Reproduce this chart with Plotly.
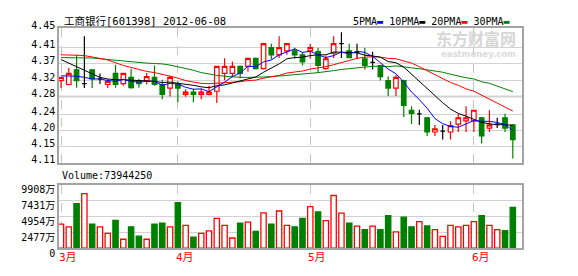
import plotly.graph_objects as go

# ---------------- data ----------------
dates = [
    "2012-03-12", "2012-03-13", "2012-03-14", "2012-03-15", "2012-03-16",
    "2012-03-19", "2012-03-20", "2012-03-21", "2012-03-22", "2012-03-23",
    "2012-03-26", "2012-03-27", "2012-03-28", "2012-03-29", "2012-03-30",
    "2012-04-05", "2012-04-06", "2012-04-09", "2012-04-10", "2012-04-11",
    "2012-04-12", "2012-04-13", "2012-04-16", "2012-04-17", "2012-04-18",
    "2012-04-19", "2012-04-20", "2012-04-23", "2012-04-24", "2012-04-25",
    "2012-04-26", "2012-04-27",
    "2012-05-02", "2012-05-03", "2012-05-04", "2012-05-07", "2012-05-08",
    "2012-05-09", "2012-05-10", "2012-05-11", "2012-05-14", "2012-05-15",
    "2012-05-16", "2012-05-17", "2012-05-18", "2012-05-21", "2012-05-22",
    "2012-05-23", "2012-05-24", "2012-05-25", "2012-05-28", "2012-05-29",
    "2012-05-30",
    "2012-06-01", "2012-06-04", "2012-06-05", "2012-06-06", "2012-06-07",
    "2012-06-08",
]

open_ = [4.318, 4.308, 4.345, 4.310, 4.345, 4.322, 4.308, 4.336, 4.310, 4.326,
         4.318, 4.318, 4.326, 4.308, 4.299, 4.309, 4.283, 4.289, 4.283, 4.283,
         4.291, 4.336, 4.336, 4.354, 4.354, 4.374, 4.348, 4.401, 4.383, 4.393,
         4.393, 4.383, 4.393, 4.391, 4.348, 4.387, 4.411, 4.393, 4.389, 4.373,
         4.364, 4.356, 4.318, 4.299, 4.318, 4.243, 4.234, 4.224, 4.188, 4.190,
         4.188, 4.208, 4.216, 4.216, 4.224, 4.198, 4.208, 4.224, 4.206]
high = [4.327, 4.350, 4.383, 4.430, 4.346, 4.336, 4.322, 4.358, 4.337, 4.348,
        4.322, 4.337, 4.356, 4.320, 4.330, 4.316, 4.296, 4.297, 4.297, 4.305,
        4.354, 4.374, 4.366, 4.356, 4.374, 4.376, 4.411, 4.411, 4.430, 4.413,
        4.401, 4.390, 4.411, 4.401, 4.381, 4.430, 4.440, 4.411, 4.411, 4.401,
        4.391, 4.358, 4.328, 4.332, 4.320, 4.253, 4.244, 4.226, 4.206, 4.206,
        4.215, 4.234, 4.253, 4.244, 4.226, 4.243, 4.224, 4.234, 4.208]
low = [4.299, 4.306, 4.300, 4.299, 4.299, 4.309, 4.299, 4.300, 4.305, 4.297,
       4.300, 4.308, 4.305, 4.271, 4.278, 4.263, 4.277, 4.263, 4.271, 4.280,
       4.261, 4.319, 4.326, 4.324, 4.340, 4.346, 4.346, 4.372, 4.375, 4.383,
       4.373, 4.356, 4.373, 4.338, 4.346, 4.375, 4.375, 4.374, 4.375, 4.346,
       4.346, 4.318, 4.279, 4.279, 4.226, 4.208, 4.206, 4.178, 4.178, 4.169,
       4.169, 4.188, 4.188, 4.188, 4.159, 4.188, 4.198, 4.188, 4.121]
close = [4.326, 4.336, 4.318, 4.310, 4.322, 4.322, 4.316, 4.308, 4.336, 4.300,
         4.310, 4.328, 4.308, 4.283, 4.326, 4.299, 4.289, 4.283, 4.289, 4.289,
         4.354, 4.354, 4.354, 4.336, 4.374, 4.348, 4.411, 4.383, 4.401, 4.411,
         4.383, 4.365, 4.401, 4.356, 4.373, 4.411, 4.411, 4.376, 4.389, 4.356,
         4.364, 4.328, 4.299, 4.326, 4.255, 4.235, 4.234, 4.188, 4.196, 4.190,
         4.204, 4.224, 4.224, 4.243, 4.178, 4.206, 4.208, 4.198, 4.169]

ma5 = [4.330, 4.330, 4.329, 4.326, 4.322, 4.322, 4.318, 4.316, 4.321, 4.316,
       4.314, 4.316, 4.316, 4.306, 4.311, 4.309, 4.301, 4.296, 4.297, 4.290,
       4.301, 4.314, 4.328, 4.337, 4.354, 4.353, 4.365, 4.370, 4.383, 4.391,
       4.398, 4.389, 4.392, 4.383, 4.376, 4.381, 4.390, 4.385, 4.392, 4.389,
       4.379, 4.363, 4.347, 4.335, 4.314, 4.289, 4.270, 4.248, 4.222, 4.209,
       4.202, 4.200, 4.208, 4.217, 4.215, 4.215, 4.212, 4.207, 4.192]
ma10 = [4.371, 4.362, 4.352, 4.342, 4.333, 4.326, 4.322, 4.320, 4.320, 4.319,
        4.318, 4.317, 4.316, 4.313, 4.314, 4.311, 4.309, 4.306, 4.302, 4.300,
        4.305, 4.307, 4.312, 4.317, 4.322, 4.327, 4.339, 4.349, 4.360, 4.373,
        4.376, 4.377, 4.381, 4.383, 4.383, 4.390, 4.390, 4.389, 4.388, 4.382,
        4.380, 4.377, 4.366, 4.363, 4.352, 4.334, 4.316, 4.297, 4.278, 4.262,
        4.246, 4.235, 4.228, 4.219, 4.212, 4.209, 4.206, 4.207, 4.204]
ma20 = [4.383, 4.383, 4.382, 4.381, 4.378, 4.374, 4.370, 4.363, 4.356, 4.351,
        4.346, 4.341, 4.338, 4.334, 4.329, 4.324, 4.318, 4.314, 4.311, 4.310,
        4.311, 4.312, 4.314, 4.315, 4.318, 4.319, 4.324, 4.328, 4.331, 4.337,
        4.340, 4.342, 4.347, 4.350, 4.353, 4.358, 4.364, 4.369, 4.374, 4.377,
        4.378, 4.377, 4.374, 4.373, 4.367, 4.362, 4.353, 4.343, 4.333, 4.322,
        4.313, 4.306, 4.297, 4.291, 4.282, 4.271, 4.261, 4.252, 4.241]
ma30 = [4.376, 4.376, 4.376, 4.376, 4.375, 4.373, 4.371, 4.369, 4.367, 4.365,
        4.363, 4.362, 4.361, 4.360, 4.357, 4.353, 4.349, 4.344, 4.338, 4.334,
        4.331, 4.329, 4.327, 4.326, 4.326, 4.326, 4.327, 4.328, 4.329, 4.331,
        4.333, 4.334, 4.336, 4.338, 4.340, 4.343, 4.346, 4.348, 4.350, 4.352,
        4.354, 4.354, 4.353, 4.355, 4.352, 4.350, 4.348, 4.345, 4.342, 4.339,
        4.334, 4.329, 4.325, 4.322, 4.315, 4.311, 4.304, 4.298, 4.290]

volume_wan = [3788, 3351, 6994, 8550, 3788, 3351, 2331, 4371, 1408, 3351,
              1894, 1408, 3788, 3934, 3351, 7139, 3594, 1748, 2331, 2720,
              4662, 3594, 1603, 3934, 4080, 2623, 5537, 3788, 5828, 3594,
              3351, 4662, 6508, 5682, 4322, 8255, 5488, 3934, 3448, 2914,
              3448, 2914, 5100, 2574, 4856, 3351, 4177, 3497, 2914, 1846,
              3594, 3351, 3594, 4177, 5100, 3594, 2914, 2768, 6411]

price_ticks = [4.11, 4.1518, 4.1912, 4.2316, 4.2776, 4.3187, 4.3612, 4.4021, 4.45]
price_tick_labels = ["4.11", "4.15", "4.20", "4.24", "4.28", "4.32", "4.37", "4.41", "4.45"]
volume_ticks = [0, 2477, 4954, 7431, 9908]
volume_tick_labels = ["0", "2477万", "4954万", "7431万", "9908万"]
month_names = {"03": "3月", "04": "4月", "05": "5月", "06": "6月"}
title_text = "工商银行[601398] 2012-06-08"
volume_text = "Volume:73944250"

# ---------------- styling ----------------
RED = "#ff0000"
GREEN = "#008000"
BLUE = "#0000ff"
BLACK = "#000000"
FRAME = "#a4a4a4"
GRID = "#d2d2d2"
FONT = "DejaVu Sans Mono, Noto Sans CJK SC, monospace"

month_idx = []
for i, d in enumerate(dates):
    if i == 0 or d[5:7] != dates[i - 1][5:7]:
        month_idx.append(i)
month_ticks = [dates[i] for i in month_idx]

is_doji = [o == c for o, c in zip(open_, close)]
nd = [i for i in range(len(dates)) if not is_doji[i]]
dj = [i for i in range(len(dates)) if is_doji[i]]

fig = go.Figure()

fig.add_trace(go.Candlestick(
    x=[dates[i] for i in nd], open=[open_[i] for i in nd], high=[high[i] for i in nd],
    low=[low[i] for i in nd], close=[close[i] for i in nd],
    increasing=dict(line=dict(color=RED, width=1.2), fillcolor="white"),
    decreasing=dict(line=dict(color=GREEN, width=1.2), fillcolor=GREEN),
    whiskerwidth=0, xaxis="x", yaxis="y", hoverinfo="skip"))
fig.add_trace(go.Candlestick(
    x=[dates[i] for i in dj], open=[open_[i] for i in dj], high=[high[i] for i in dj],
    low=[low[i] for i in dj], close=[close[i] for i in dj],
    increasing=dict(line=dict(color=BLACK, width=1.2), fillcolor=BLACK),
    decreasing=dict(line=dict(color=BLACK, width=1.2), fillcolor=BLACK),
    whiskerwidth=0, xaxis="x", yaxis="y", hoverinfo="skip"))

for vals, col in [(ma30, GREEN), (ma20, RED), (ma10, BLACK), (ma5, BLUE)]:
    fig.add_trace(go.Scatter(x=dates, y=vals, mode="lines",
                             line=dict(color=col, width=1), xaxis="x", yaxis="y",
                             hoverinfo="skip"))

up = [c >= o for o, c in zip(open_, close)]
fig.add_trace(go.Bar(
    x=dates, y=volume_wan, width=0.68, xaxis="x2", yaxis="y2",
    marker=dict(color=["white" if u else GREEN for u in up],
                line=dict(color=[RED if u else GREEN for u in up], width=1.3)),
    hoverinfo="skip"))

xcommon = dict(type="category", categoryorder="array", categoryarray=dates,
               range=[-0.257, 59.18], showline=True, mirror=True,
               linecolor=FRAME, linewidth=1.5, tickmode="array", tickvals=month_ticks,
               showticklabels=False, ticks="", showgrid=True, gridcolor="#c4c4c4",
               griddash="dash", gridwidth=1, zeroline=False, fixedrange=True)

fig.update_layout(
    width=578, height=276, margin=dict(l=59, r=56, t=0, b=0),
    paper_bgcolor="white", plot_bgcolor="white", showlegend=False,
    boxgap=0.42, boxgroupgap=0,
    font=dict(family=FONT, size=10, color="black"),
    xaxis=dict(domain=[0, 1], anchor="y", rangeslider=dict(visible=False), **xcommon),
    xaxis2=dict(domain=[0, 1], anchor="y2", matches="x", **xcommon),
    yaxis=dict(domain=[0.39964, 0.92138], range=[4.11, 4.45], tickmode="array",
               tickvals=price_ticks, ticktext=price_tick_labels, showgrid=True,
               gridcolor=GRID, gridwidth=1, showline=True, mirror=True, linecolor=FRAME,
               linewidth=1.5, ticks="", zeroline=False, ticklabelshift=-3,
               tickfont=dict(family=FONT, size=10, color="black"), fixedrange=True),
    yaxis2=dict(domain=[0.06884, 0.31413], range=[0, 9908], tickmode="array",
                tickvals=volume_ticks, ticktext=volume_tick_labels, showgrid=True,
                gridcolor=GRID, gridwidth=1, showline=True, mirror=True, linecolor=FRAME,
                linewidth=1.5, ticks="", zeroline=False, ticklabelshift=5,
                tickfont=dict(family=FONT, size=10, color="black"), fixedrange=True),
)

# darker reference line in the price panel
fig.add_shape(type="line", xref="x domain", yref="y", x0=0, x1=1, layer="below",
              y0=price_ticks[4], y1=price_ticks[4], line=dict(color="#a8a8a8", width=1.5))

ann = []
ann.append(dict(text=title_text, xref="paper", yref="paper", x=3 / 463, y=0.9493,
                xanchor="left", yanchor="middle", showarrow=False,
                font=dict(family=FONT, size=10.5, color="black")))
legend_text = ("5PMA<span style='color:%s'>▬</span> 10PMA<span style='color:%s'>▬</span> "
               "20PMA<span style='color:%s'>▬</span> 30PMA<span style='color:%s'>▬</span>"
               % (BLUE, BLACK, RED, GREEN))
ann.append(dict(text=legend_text, xref="paper", yref="paper", x=(351 - 59) / 463, y=0.9493,
                xanchor="left", yanchor="middle", showarrow=False,
                font=dict(family=FONT, size=10, color="black")))
ann.append(dict(text=volume_text, xref="paper", yref="paper", x=1 / 463, y=0.3514,
                xanchor="left", yanchor="middle", showarrow=False,
                font=dict(family=FONT, size=10, color="black")))
ann.append(dict(text="<b>东方财富网</b>", xref="paper", yref="paper", x=(518 - 59) / 463,
                y=(276 - 32) / 276, xanchor="right", yanchor="middle", showarrow=False,
                font=dict(family="Noto Sans CJK SC", size=16, color="#d6d6d6")))
ann.append(dict(text="<b>eastmoney.com</b>", xref="paper", yref="paper", x=(518 - 59) / 463,
                y=(276 - 49) / 276, xanchor="right", yanchor="middle", showarrow=False,
                font=dict(family="DejaVu Sans", size=8.5, color="#dadada")))
for i in month_idx:
    ann.append(dict(text=month_names[dates[i][5:7]], xref="x2", yref="paper", x=dates[i],
                    y=(276 - 266.5) / 276, xanchor="left", yanchor="middle", xshift=-4,
                    showarrow=False, font=dict(family=FONT, size=11, color=RED)))
fig.update_layout(annotations=ann)

fig.write_html("out.html")
